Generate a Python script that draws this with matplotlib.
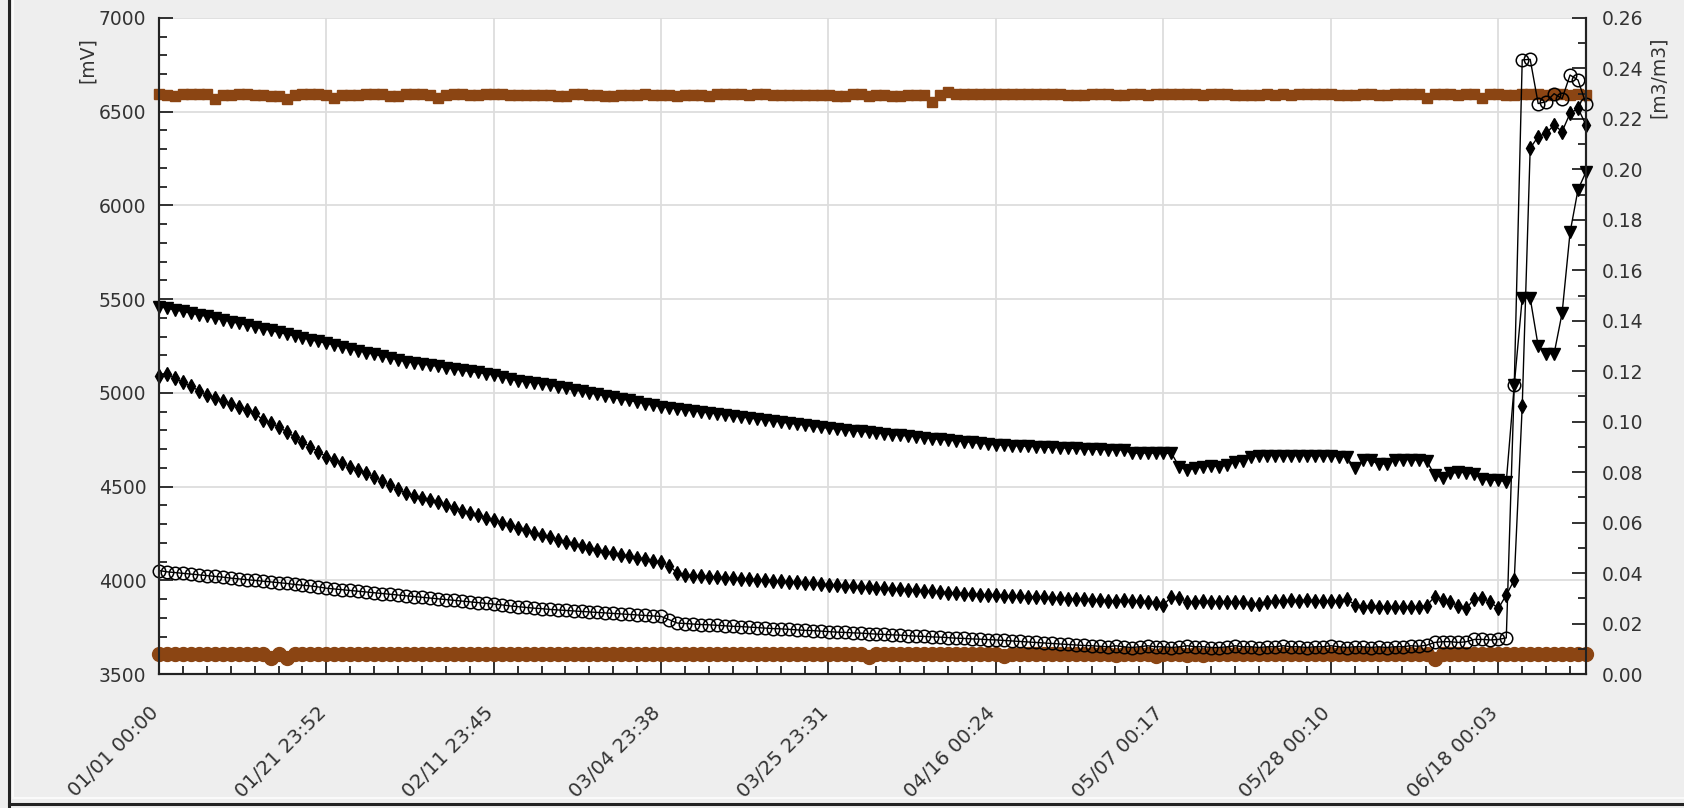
import numpy as np
import matplotlib
matplotlib.use("Agg")
import matplotlib.pyplot as plt
import matplotlib.transforms as mtransforms
from matplotlib.ticker import MultipleLocator, FixedLocator, FuncFormatter
from matplotlib.lines import Line2D

# ---------------- data (one value per day, day 0 = 01/01 00:00) ----------------
x_tick_labels = ["01/01 00:00", "01/21 23:52", "02/11 23:45", "03/04 23:38",
                 "03/25 23:31", "04/16 00:24", "05/07 00:17", "05/28 00:10",
                 "06/18 00:03"]
tick_step_days = 20.9951
x_end_day = 179.0

# left axis [mV]
brown_top_mv = [
    6597, 6590, 6584, 6597, 6597, 6597, 6597, 6570, 6590, 6590,
    6597, 6597, 6590, 6590, 6584, 6584, 6570, 6590, 6597, 6597,
    6597, 6590, 6572, 6590, 6590, 6590, 6597, 6597, 6597, 6584,
    6584, 6597, 6597, 6597, 6590, 6572, 6590, 6597, 6597, 6590,
    6590, 6597, 6597, 6597, 6590, 6590, 6590, 6590, 6590, 6590,
    6584, 6584, 6597, 6597, 6590, 6590, 6584, 6584, 6590, 6590,
    6590, 6597, 6590, 6590, 6590, 6584, 6590, 6590, 6590, 6584,
    6597, 6597, 6597, 6597, 6590, 6597, 6597, 6590, 6590, 6590,
    6590, 6590, 6590, 6590, 6590, 6584, 6584, 6597, 6597, 6584,
    6590, 6590, 6584, 6584, 6590, 6590, 6590, 6552, 6590, 6605,
    6597, 6597, 6597, 6597, 6597, 6597, 6597, 6597, 6597, 6597,
    6597, 6597, 6597, 6597, 6588, 6588, 6588, 6597, 6597, 6597,
    6588, 6588, 6597, 6597, 6588, 6597, 6597, 6597, 6597, 6597,
    6597, 6588, 6597, 6597, 6597, 6588, 6588, 6588, 6588, 6597,
    6588, 6597, 6588, 6597, 6597, 6597, 6597, 6597, 6588, 6588,
    6588, 6597, 6597, 6588, 6588, 6597, 6597, 6597, 6597, 6572,
    6597, 6597, 6597, 6588, 6597, 6597, 6572, 6597, 6597, 6588,
    6588, 6597, 6597, 6597, 6588, 6597, 6597, 6588, 6597, 6588,
]
brown_bottom_mv = [
    3605, 3605, 3605, 3605, 3605, 3605, 3605, 3605, 3605, 3605,
    3605, 3605, 3605, 3605, 3588, 3605, 3588, 3605, 3605, 3605,
    3605, 3605, 3605, 3605, 3605, 3605, 3605, 3605, 3605, 3605,
    3605, 3605, 3605, 3605, 3605, 3605, 3605, 3605, 3605, 3605,
    3605, 3605, 3605, 3605, 3605, 3605, 3605, 3605, 3605, 3605,
    3605, 3605, 3605, 3605, 3605, 3605, 3605, 3605, 3605, 3605,
    3605, 3605, 3605, 3605, 3605, 3605, 3605, 3605, 3605, 3605,
    3605, 3605, 3605, 3605, 3605, 3605, 3605, 3605, 3605, 3605,
    3605, 3605, 3605, 3605, 3605, 3605, 3605, 3605, 3605, 3590,
    3605, 3605, 3605, 3605, 3605, 3605, 3605, 3605, 3605, 3605,
    3605, 3605, 3605, 3605, 3605, 3605, 3598, 3605, 3605, 3605,
    3605, 3605, 3605, 3605, 3605, 3605, 3605, 3605, 3605, 3605,
    3600, 3605, 3605, 3605, 3605, 3598, 3605, 3605, 3605, 3600,
    3605, 3600, 3605, 3605, 3605, 3605, 3605, 3605, 3605, 3605,
    3605, 3605, 3605, 3605, 3605, 3605, 3605, 3605, 3605, 3605,
    3605, 3605, 3605, 3605, 3605, 3605, 3605, 3605, 3605, 3605,
    3580, 3605, 3605, 3605, 3605, 3605, 3605, 3605, 3605, 3605,
    3605, 3605, 3605, 3605, 3605, 3605, 3605, 3605, 3605, 3605,
]

# right axis [m3/m3]
vwc_triangle = [
    .1456, .1450, .1443, .1437, .1430, .1424, .1417, .1410, .1404, .1397,
    .1390, .1383, .1376, .1369, .1362, .1354, .1347, .1340, .1333, .1325,
    .1318, .1311, .1304, .1296, .1289, .1282, .1274, .1267, .1260, .1253,
    .1245, .1238, .1233, .1228, .1224, .1219, .1214, .1209, .1204, .1199,
    .1195, .1190, .1185, .1178, .1170, .1162, .1158, .1155, .1151, .1145,
    .1139, .1133, .1127, .1120, .1114, .1108, .1102, .1096, .1090, .1084,
    .1078, .1071, .1065, .1059, .1055, .1051, .1047, .1043, .1039, .1035,
    .1031, .1027, .1023, .1019, .1015, .1011, .1007, .1003, .0999, .0994,
    .0990, .0986, .0982, .0978, .0974, .0971, .0968, .0965, .0962, .0959,
    .0955, .0952, .0949, .0946, .0943, .0940, .0937, .0933, .0930, .0927,
    .0924, .0921, .0918, .0914, .0911, .0908, .0907, .0905, .0904, .0902,
    .0901, .0899, .0898, .0897, .0895, .0894, .0892, .0891, .0890, .0889,
    .0888, .0888, .0875, .0875, .0876, .0875, .0874, .0875, .0820, .0810,
    .0815, .0822, .0825, .0822, .0828, .0842, .0845, .0862, .0865, .0866,
    .0866, .0865, .0865, .0866, .0865, .0864, .0865, .0864, .0862, .0860,
    .0815, .0848, .0848, .0831, .0833, .0848, .0850, .0850, .0848, .0845,
    .0790, .0776, .0795, .0800, .0798, .0792, .0772, .0769, .0768, .0762,
    .1145, .1490, .1490, .1300, .1270, .1270, .1430, .1750, .1920, .1990,
]
vwc_diamond = [
    .1182, .1190, .1173, .1156, .1140, .1123, .1106, .1094, .1082, .1071,
    .1059, .1047, .1035, .1007, .0995, .0980, .0960, .0940, .0920, .0900,
    .0881, .0861, .0848, .0835, .0822, .0808, .0795, .0782, .0766, .0749,
    .0733, .0716, .0707, .0699, .0690, .0680, .0669, .0659, .0648, .0638,
    .0629, .0619, .0610, .0600, .0591, .0580, .0569, .0559, .0550, .0542,
    .0533, .0525, .0516, .0508, .0499, .0491, .0485, .0479, .0473, .0467,
    .0461, .0455, .0449, .0443, .0430, .0400, .0392, .0390, .0388, .0386,
    .0384, .0382, .0380, .0378, .0376, .0374, .0372, .0370, .0367, .0365,
    .0363, .0361, .0359, .0356, .0353, .0351, .0349, .0347, .0345, .0343,
    .0341, .0339, .0337, .0335, .0333, .0331, .0329, .0327, .0325, .0323,
    .0321, .0319, .0317, .0315, .0314, .0313, .0311, .0310, .0308, .0307,
    .0305, .0304, .0302, .0301, .0299, .0298, .0296, .0295, .0293, .0291,
    .0290, .0292, .0289, .0291, .0285, .0280, .0274, .0306, .0300, .0287,
    .0287, .0289, .0287, .0287, .0287, .0285, .0284, .0278, .0278, .0285,
    .0290, .0290, .0292, .0290, .0293, .0290, .0290, .0290, .0288, .0296,
    .0275, .0267, .0270, .0267, .0267, .0267, .0267, .0267, .0267, .0270,
    .0306, .0295, .0285, .0270, .0260, .0299, .0302, .0285, .0260, .0313,
    .0372, .1062, .2084, .2130, .2143, .2176, .2150, .2222, .2242, .2176,
]
vwc_circle = [
    .0410, .0405, .0402, .0399, .0396, .0393, .0390, .0387, .0384, .0380,
    .0377, .0374, .0371, .0368, .0365, .0362, .0359, .0355, .0352, .0349,
    .0345, .0340, .0337, .0334, .0331, .0328, .0325, .0322, .0319, .0316,
    .0313, .0310, .0307, .0304, .0301, .0298, .0295, .0292, .0289, .0286,
    .0283, .0280, .0277, .0274, .0270, .0267, .0264, .0261, .0259, .0256,
    .0254, .0252, .0250, .0248, .0246, .0244, .0242, .0240, .0238, .0236,
    .0234, .0232, .0230, .0228, .0215, .0202, .0200, .0198, .0196, .0195,
    .0193, .0191, .0189, .0188, .0186, .0184, .0182, .0180, .0179, .0177,
    .0175, .0173, .0172, .0170, .0168, .0166, .0165, .0163, .0162, .0160,
    .0158, .0157, .0155, .0154, .0152, .0150, .0149, .0147, .0146, .0144,
    .0142, .0141, .0139, .0138, .0136, .0135, .0133, .0131, .0129, .0127,
    .0125, .0123, .0121, .0119, .0117, .0115, .0113, .0112, .0110, .0108,
    .0112, .0108, .0105, .0108, .0112, .0108, .0108, .0105, .0108, .0112,
    .0108, .0108, .0105, .0105, .0108, .0112, .0108, .0108, .0105, .0108,
    .0108, .0112, .0108, .0108, .0105, .0108, .0108, .0112, .0108, .0105,
    .0108, .0108, .0105, .0108, .0105, .0108, .0108, .0112, .0110, .0114,
    .0125, .0128, .0128, .0125, .0128, .0137, .0137, .0135, .0137, .0143,
    .1145, .2434, .2436, .2261, .2268, .2300, .2280, .2374, .2354, .2260,
]

# ---------------- figure ----------------
BROWN = "#8B4513"
TXT = "#333333"
plt.rcParams["font.family"] = ["DejaVu Sans"]

W, H = 1684, 808
fig = plt.figure(figsize=(W / 100, H / 100), dpi=100, facecolor="#eeeeee")
L, R, T, B = 159, 1586, 18, 674
ax = fig.add_axes([L / W, 1 - B / H, (R - L) / W, (B - T) / H])
ax.set_facecolor("white")
ax2 = ax.twinx()

days_top = np.arange(len(brown_top_mv))
days_bot = np.arange(len(brown_bottom_mv))
ax.plot(days_top, brown_top_mv, color=BROWN, lw=2.5, marker="s", ms=7.5,
        mec=BROWN, mfc=BROWN, clip_on=False, zorder=3)
ax.plot(days_bot, brown_bottom_mv, color=BROWN, lw=2.5, marker="o", ms=10,
        mec=BROWN, mfc=BROWN, clip_on=False, zorder=3)

ax2.plot(np.arange(len(vwc_triangle)), vwc_triangle, color="black", lw=1,
         marker="v", ms=8.5, clip_on=False)
ax2.plot(np.arange(len(vwc_diamond)), vwc_diamond, color="black", lw=1,
         marker="d", ms=7.5, clip_on=False)
ax2.plot(np.arange(len(vwc_circle)), vwc_circle, color="black", lw=1,
         marker="o", ms=9, mfc="none", mec="black", mew=1.1, clip_on=False)

# axes ranges / ticks
ax.set_xlim(0, x_end_day)
ax.set_ylim(3500, 7000)
ax2.set_ylim(0, 0.26)

xt = [i * tick_step_days for i in range(len(x_tick_labels))]
ax.xaxis.set_major_locator(FixedLocator(xt))
ax.xaxis.set_minor_locator(MultipleLocator(tick_step_days / 7))
ax.set_xticklabels(x_tick_labels)

ax.yaxis.set_major_locator(MultipleLocator(500))
ax.yaxis.set_minor_locator(MultipleLocator(100))
ax2.yaxis.set_major_locator(MultipleLocator(0.02))
ax2.yaxis.set_minor_locator(MultipleLocator(0.01))
ax2.yaxis.set_major_formatter(FuncFormatter(lambda v, p: f"{v:.2f}"))

ax.tick_params(axis="both", which="major", direction="in", length=10, width=1.3,
               labelsize=13.5, labelcolor=TXT, color="#222222")
ax.tick_params(axis="both", which="minor", direction="in", length=6, width=1.3,
               color="#222222")
ax.tick_params(axis="y", which="major", pad=9)
ax.tick_params(axis="x", which="major", pad=21)
ax2.tick_params(axis="y", which="major", direction="in", length=10, width=1.3,
                labelsize=13.5, labelcolor=TXT, color="#222222", pad=11)
ax2.tick_params(axis="y", which="minor", direction="in", length=6, width=1.3,
                color="#222222")

# rotated date labels (after tick_params so the transform is kept)
shift = mtransforms.ScaledTranslation(-10 / 100, 0, fig.dpi_scale_trans)
for lab in ax.get_xticklabels():
    lab.set_rotation(45)
    lab.set_ha("right")
    lab.set_va("top")
    lab.set_rotation_mode("anchor")
    lab.set_fontsize(14.2)
    lab.set_transform(lab.get_transform() + shift)

ax.grid(True, which="major", color="#dddddd", lw=1.3)
ax.set_axisbelow(True)

for a in (ax, ax2):
    a.spines["top"].set_visible(False)
    for s in ("left", "right", "bottom"):
        a.spines[s].set_color("#222222")
        a.spines[s].set_linewidth(1.5)

# unit labels
fig.text(87 / W, 1 - 37 / H, "[mV]", rotation=90, ha="center", va="top",
         fontsize=13.5, color=TXT)
fig.text(1658 / W, 1 - 37 / H, "[m3/m3]", rotation=90, ha="center", va="top",
         fontsize=13.5, color=TXT)

# panel frame
fig.add_artist(Line2D([9 / W, 9 / W], [0, 1], color="#222222", lw=2.2,
                      transform=fig.transFigure))
fig.add_artist(Line2D([13 / W, 13 / W], [1 - 798 / H, 1], color="#fafafa", lw=1.5,
                      transform=fig.transFigure))
fig.add_artist(Line2D([9 / W, 1], [1 - 804 / H, 1 - 804 / H], color="#222222", lw=2.2,
                      transform=fig.transFigure))
fig.add_artist(Line2D([13 / W, 1], [1 - 798 / H, 1 - 798 / H], color="#fafafa", lw=1.5,
                      transform=fig.transFigure))

fig.savefig("out.png", dpi=100, facecolor=fig.get_facecolor())
